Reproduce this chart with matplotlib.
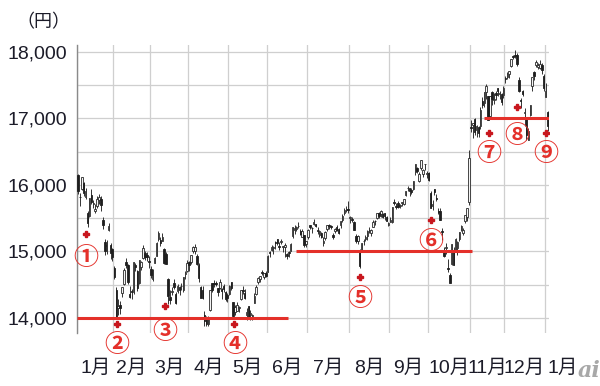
import numpy as np
import matplotlib
matplotlib.use('Agg')
import matplotlib.pyplot as plt
import matplotlib.transforms as mtransforms

# Daily candles, Jan 6 2014 .. Jan 6 2015 (one line per month)
opens = [
    16147, 15822, 15938, 16026, 15817, 15578, 15539, 15855, 15707, 15612, 15680, 15780, 15792, 15470, 15147, 15080, 15320, 15098, 15043,
    14752, 14425, 14146, 14188, 14369, 14517, 14847, 14795, 14365, 14396, 14390, 14802, 14702, 14532, 14772, 14899, 14976, 14942, 14850,
    14736, 14592, 14829, 14927, 15190, 15169, 15165, 15036, 14955, 14590, 14311, 14397, 14533, 14358, 14405, 14460, 14478, 14417, 14666, 14710,
    14843, 14835, 15008, 15000, 14934, 14797, 14459, 14418, 14039, 14012, 13914, 14126, 14522, 14517, 14518, 14452, 14451, 14430, 14481, 14384, 14342,
    14360, 14536, 14242, 14091, 14111, 14148, 14289, 14427, 14370, 14038, 14175, 14048, 13983, 14231, 14367, 14546, 14590, 14693, 14614, 14669,
    14695, 14985, 15025, 15054, 15145, 15191, 15081, 15142, 15067, 15062, 14961, 14981, 15014, 15231, 15324, 15334, 15388, 15310, 15220, 15246, 15109,
    15218, 15395, 15353, 15417, 15412, 15316, 15251, 15284, 15132, 15204, 15345, 15394, 15388, 15246, 15311, 15371, 15341, 15392, 15480, 15586, 15617, 15645,
    15496, 15480, 15444, 15227, 15162, 15007, 15000, 15154, 15194, 15236, 15329, 15283, 15370, 15460, 15502, 15578, 15561, 15564, 15573, 15512, 15404,
    15440, 15450, 15734, 15681, 15731, 15688, 15725, 15707, 15850, 15961, 15955, 15920, 15945, 16200, 16251, 16055, 16250, 16159, 16309, 16172,
    16181, 15875, 15683, 15944, 15804, 15598, 15612, 15307, 15008, 15058, 14749, 14642, 14807, 15018, 15025, 15049, 15184, 15320, 15283, 15462, 15525, 15737,
    16866, 16896, 16998, 16834, 16871, 16886, 17268, 17239, 17401, 17334, 17032, 17401, 17274, 17388, 17458, 17362, 17375, 17355,
    17610, 17620, 17664, 17787, 17935, 17960, 17959, 17580, 17281, 17413, 17076, 17002, 16681, 17046, 17494, 17700, 17804, 17775, 17766, 17797, 17639,
    17325, 17101,
]
highs = [
    16164, 15874, 16121, 16038, 15958, 15614, 15808, 15934, 15779, 15719, 15832, 15857, 15829, 15519, 15186, 15170, 15430, 15131, 15050,
    14780, 14470, 14280, 14255, 14466, 14756, 14900, 14810, 14475, 14440, 14843, 14825, 14717, 14865, 14862, 15094, 15000, 14990, 14930,
    14780, 14735, 14920, 15143, 15312, 15215, 15276, 15048, 14999, 14596, 14417, 14460, 14580, 14387, 14517, 14480, 14523, 14622, 14711, 14875,
    14852, 14946, 15084, 15107, 14960, 14830, 14485, 14482, 14102, 14024, 14032, 14417, 14528, 14573, 14554, 14452, 14583, 14448, 14513, 14409, 14381,
    14493, 14541, 14243, 14199, 14234, 14179, 14425, 14483, 14438, 14155, 14175, 14127, 14060, 14374, 14500, 14617, 14638, 14719, 14683, 14710,
    14949, 15007, 15094, 15084, 15159, 15195, 15138, 15191, 15088, 15132, 14981, 15008, 15127, 15363, 15391, 15378, 15442, 15341, 15345, 15246, 15162,
    15340, 15398, 15368, 15481, 15414, 15361, 15319, 15295, 15217, 15310, 15395, 15416, 15394, 15284, 15356, 15403, 15350, 15461, 15559, 15649, 15679, 15759,
    15533, 15511, 15464, 15262, 15247, 15043, 15133, 15186, 15250, 15328, 15366, 15340, 15468, 15478, 15586, 15588, 15621, 15572, 15584, 15531, 15441,
    15517, 15672, 15785, 15733, 15766, 15713, 15750, 15792, 15914, 15985, 15956, 15955, 16067, 16321, 16277, 16191, 16374, 16242, 16321, 16204,
    16196, 15902, 15769, 15944, 15860, 15656, 15659, 15358, 15061, 15134, 14886, 14669, 15111, 15064, 15199, 15152, 15293, 15399, 15356, 15553, 15661, 16533,
    16973, 16937, 17000, 16898, 16886, 17178, 17319, 17392, 17520, 17345, 17344, 17406, 17377, 17410, 17458, 17418, 17386, 17481,
    17644, 17700, 17720, 17888, 17960, 18030, 17979, 17619, 17308, 17428, 17152, 17014, 16857, 17210, 17627, 17716, 17880, 17827, 17874, 17831, 17672,
    17540, 17111,
]
lows = [
    15864, 15690, 15920, 15830, 15792, 15369, 15518, 15720, 15655, 15580, 15656, 15720, 15614, 15336, 14944, 14957, 15310, 14893, 14850,
    14580, 13995, 14050, 14059, 14320, 14500, 14757, 14517, 14300, 14281, 14367, 14710, 14408, 14510, 14715, 14880, 14875, 14862, 14746,
    14595, 14563, 14820, 14926, 15165, 15076, 15152, 14817, 14815, 14203, 14217, 14350, 14429, 14203, 14377, 14352, 14427, 14390, 14580, 14698,
    14709, 14810, 14980, 14967, 14797, 14546, 14293, 14290, 13885, 13880, 13880, 14100, 14386, 14460, 14480, 14334, 14435, 14291, 14384, 14251, 14243,
    14341, 14428, 13995, 14045, 14110, 14093, 14270, 14360, 14280, 13965, 14000, 13964, 13964, 14220, 14350, 14513, 14541, 14648, 14593, 14618,
    14687, 14918, 15009, 14961, 15041, 15100, 15026, 15113, 14994, 14912, 14891, 14916, 15004, 15201, 15268, 15302, 15347, 15255, 15215, 15069, 15063,
    15189, 15332, 15281, 15396, 15363, 15257, 15224, 15203, 15087, 15169, 15304, 15338, 15345, 15181, 15279, 15313, 15256, 15346, 15447, 15545, 15595, 15580,
    15424, 15439, 15318, 15128, 15113, 14753, 14989, 15099, 15160, 15180, 15283, 15227, 15362, 15395, 15488, 15496, 15516, 15500, 15478, 15459, 15381,
    15440, 15429, 15704, 15633, 15650, 15653, 15686, 15699, 15832, 15911, 15837, 15862, 15928, 16150, 16183, 16039, 16218, 16120, 16226, 16099,
    16053, 15661, 15631, 15848, 15757, 15571, 15476, 15180, 14913, 14962, 14690, 14529, 14795, 14804, 15002, 14947, 15160, 15301, 15254, 15433, 15459, 15696,
    16791, 16704, 16745, 16714, 16726, 16848, 17158, 17168, 17288, 16973, 17030, 17206, 17213, 17271, 17343, 17293, 17203, 17311,
    17539, 17592, 17615, 17769, 17891, 17913, 17794, 17400, 17164, 17333, 16880, 16672, 16681, 17030, 17406, 17586, 17777, 17750, 17748, 17673, 17414,
    17325, 16808,
]
closes = [
    15908, 15814, 16121, 15880, 15912, 15422, 15808, 15747, 15734, 15641, 15795, 15820, 15695, 15391, 15006, 15094, 15383, 14980, 14915,
    14619, 14008, 14180, 14155, 14462, 14718, 14800, 14535, 14313, 14393, 14843, 14767, 14450, 14865, 14837, 15051, 14923, 14924, 14841,
    14653, 14721, 14897, 15134, 15274, 15120, 15224, 14830, 14815, 14327, 14277, 14411, 14462, 14224, 14475, 14423, 14477, 14622, 14696, 14827,
    14791, 14946, 15071, 15063, 14809, 14607, 14300, 14299, 13960, 13910, 14018, 14417, 14417, 14516, 14512, 14388, 14546, 14404, 14429, 14288, 14304,
    14485, 14458, 14033, 14163, 14199, 14149, 14425, 14405, 14298, 14097, 14006, 14075, 14042, 14337, 14462, 14602, 14636, 14670, 14681, 14632,
    14935, 14976, 15068, 15069, 15124, 15124, 15069, 15162, 15069, 15097, 14933, 14975, 15115, 15361, 15349, 15369, 15376, 15266, 15308, 15095, 15162,
    15326, 15369, 15348, 15437, 15379, 15314, 15302, 15216, 15164, 15297, 15395, 15379, 15370, 15215, 15343, 15328, 15284, 15457, 15529, 15618, 15646, 15620,
    15523, 15474, 15320, 15159, 15232, 14778, 15130, 15161, 15213, 15314, 15318, 15322, 15449, 15454, 15586, 15539, 15613, 15521, 15534, 15459, 15425,
    15476, 15668, 15728, 15676, 15669, 15705, 15749, 15788, 15909, 15948, 15911, 15888, 16067, 16321, 16205, 16167, 16374, 16229, 16310, 16173,
    16082, 15661, 15708, 15890, 15784, 15595, 15479, 15300, 14936, 15073, 14738, 14532, 15111, 14804, 15195, 15138, 15291, 15388, 15329, 15553, 15658, 16413,
    16863, 16937, 16792, 16880, 16781, 17125, 17197, 17392, 17490, 16974, 17344, 17288, 17300, 17357, 17408, 17383, 17248, 17460,
    17590, 17663, 17720, 17887, 17920, 17935, 17813, 17412, 17257, 17371, 17099, 16755, 16819, 17210, 17621, 17635, 17854, 17808, 17818, 17730, 17451,
    17408, 16883,
]

# trading days per month (Jan 2014 .. Jan 2015)
month_days = [19, 19, 20, 21, 20, 21, 22, 21, 20, 22, 18, 21, 19]
month_labels = ['1月', '2月', '3月', '4月', '5月', '6月', '7月', '8月', '9月',
                '10月', '11月', '12月', '1月']

# red support lines: level, start day, end day
line_levels = [14000, 15000, 17000]
line_start = [-0.5, 114, 212]
line_end = [109.5, 205.5, 245.5]

# annotation markers (day index, marker value, label value)
note_labels = ['①', '②', '③', '④', '⑤', '⑥', '⑦', '⑧', '⑨']
note_day = [4.2, 20.4, 45.5, 81.6, 147, 184, 214.3, 229, 244]
note_mark = [15263, 13910, 14180, 13910, 14617, 15474, 16782, 17173, 16782]
note_text = [14900, 13600, 13790, 13595, 14280, 15140, 16460, 16740, 16460]

o = np.array(opens)
h = np.array(highs)
l = np.array(lows)
c = np.array(closes)
x = np.arange(len(c))

fig = plt.figure(figsize=(6, 3.86), dpi=100)
ax = fig.add_axes([77 / 600, 53 / 386, 471.5 / 600, 288 / 386])

# grid
starts = np.concatenate([[0], np.cumsum(month_days)[:-1]])
ax.set_xticks(starts - 0.5)
ax.set_xticklabels([])
ax.set_yticks(np.arange(14000, 18001, 1000))
ax.set_yticks(np.arange(14500, 18000, 1000), minor=True)
ax.grid(True, which='both', color='#cfcfcf', linewidth=0.9, zorder=0)
ax.tick_params(which='both', length=0)
ax.tick_params(axis='y', pad=7, labelsize=14, labelcolor='#1b1b28')
ax.set_yticklabels(['{:,}'.format(v) for v in range(14000, 18001, 1000)],
                   family='Liberation Sans')
for s in ['top', 'right', 'bottom']:
    ax.spines[s].set_visible(False)
ax.spines['left'].set_color('#8a8a8a')
ax.spines['left'].set_linewidth(1.0)

# candles
up = c >= o
ax.vlines(x, l, h, color='#333333', linewidth=0.7, zorder=3)
bottoms = np.minimum(o, c)
heights = np.maximum(np.abs(c - o), 10)
ax.bar(x[up], heights[up], bottom=bottoms[up], width=0.75, color='#f4f4f4',
       edgecolor='#2a2a2a', linewidth=0.6, zorder=4)
ax.bar(x[~up], heights[~up], bottom=bottoms[~up], width=0.75, color='#1e1e1e',
       edgecolor='#1e1e1e', linewidth=0.6, zorder=4)

# support lines
ax.hlines(line_levels, line_start, line_end, color='#e4302a', linewidth=2.2, zorder=5)

# annotations (thick red plus signs)
ax.plot(note_day, note_mark, 'P', color='#c8161d', markersize=5,
        markeredgewidth=1.0, markeredgecolor='#c8161d', zorder=6)
for lab, d, v in zip(note_labels, note_day, note_text):
    ax.text(d, v, lab, color='#e4302a', fontsize=18, weight='bold',
            ha='center', va='center',
            family=['Noto Sans CJK JP', 'DejaVu Sans'], zorder=6)

ax.set_xlim(-0.5, 245.5)
ax.set_ylim(13774, 18105)

# month labels at mid-month
trans = mtransforms.blended_transform_factory(ax.transData, fig.transFigure)
mids = starts + np.array(month_days) / 2.0 - 0.5
for m, lab in zip(mids, month_labels):
    ax.text(m, 18 / 386, lab, transform=trans, ha='center', va='center',
            fontsize=14, color='#1b1b28', clip_on=False,
            family=['Liberation Sans', 'Noto Sans CJK JP'])

fig.text(43 / 600, 1 - 22 / 386, '（円）', ha='center', va='center',
         fontsize=13, color='#1b1b28', family=['Noto Sans CJK JP', 'DejaVu Sans'])
fig.text(589 / 600, 1 - 371 / 386, 'ai', ha='center', va='center', fontsize=16,
         color='#a8a8a8', style='italic', weight='bold', family='DejaVu Serif')

fig.savefig('out.png', dpi=100)
